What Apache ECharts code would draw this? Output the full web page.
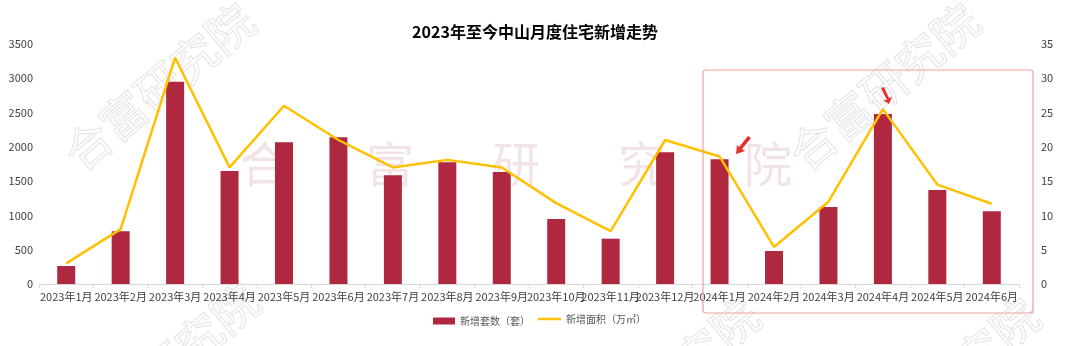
<!DOCTYPE html>
<html>
<head>
<meta charset="utf-8">
<script src="https://cdn.jsdelivr.net/npm/echarts@6/dist/echarts.min.js"></script>
<style>
html,body{margin:0;padding:0;background:#fff;}
#c{width:1080px;height:346px;}
</style>
</head>
<body>
<div id="c"></div>
<script>
const categories = ['2023年1月','2023年2月','2023年3月','2023年4月','2023年5月','2023年6月','2023年7月','2023年8月','2023年9月','2023年10月','2023年11月','2023年12月','2024年1月','2024年2月','2024年3月','2024年4月','2024年5月','2024年6月'];
const units = [262, 768, 2950, 1648, 2067, 2139, 1585, 1774, 1633, 948, 661, 1920, 1818, 481, 1123, 2479, 1371, 1060];
const area = [3.0, 8.0, 33.0, 17.0, 26.0, 21.0, 17.0, 18.1, 17.0, 11.8, 7.7, 21.0, 18.6, 5.4, 12.0, 25.5, 14.5, 11.7];
const seriesNames = ['新增套数（套）', '新增面积（万㎡）'];
const titleText = '2023年至今中山月度住宅新增走势';
const watermark = '合富研究院';

const FONT = '"Microsoft YaHei","Noto Sans CJK SC","DejaVu Sans",sans-serif';
const chart = echarts.init(document.getElementById('c'), null, {renderer:'canvas'});

const wmDiag = [];
[[55,-5],[780,-5],[60,275],[560,290],[840,290]].forEach(p=>{
  wmDiag.push({type:'text', left:p[0], top:p[1], rotation:Math.PI*0.22, z:0, silent:true,
    style:{text:watermark, font:'46px '+FONT, fill:'rgba(255,255,255,0)', stroke:'rgba(150,150,150,0.28)', lineWidth:1}});
});
const wmRow = ['合','富','研','究','院'].map((ch,i)=>({
  type:'text', left:240+i*126, top:140, z:0, silent:true,
  style:{text:ch, font:'48px '+FONT, fill:'rgba(190,120,130,0.2)'}
}));

chart.setOption({
  backgroundColor:'#fff',
  textStyle:{fontFamily:FONT},
  title:{text:titleText, left:530, textAlign:'center', top:19,
    textStyle:{fontSize:16, fontWeight:'bold', color:'#000', fontFamily:FONT}},
  legend:[
    {bottom:15, left:428, itemWidth:22, itemHeight:7,
     textStyle:{fontSize:10, color:'#595959', fontFamily:FONT},
     data:[{name:seriesNames[0], icon:'rect'}]},
    {bottom:17, left:533, itemWidth:23, itemHeight:2.5,
     textStyle:{fontSize:10, color:'#595959', fontFamily:FONT},
     data:[{name:seriesNames[1], icon:'rect'}]}
  ],
  grid:{left:39, right:61, top:44, bottom:62},
  xAxis:{type:'category', data:categories, boundaryGap:true,
    axisLine:{lineStyle:{color:'#d9d9d9'}},
    axisTick:{show:true, length:4, lineStyle:{color:'#d9d9d9'}},
    axisLabel:{interval:0, fontSize:11, color:'#404040', margin:7}},
  yAxis:[
    {type:'value', min:0, max:3500, interval:500, splitLine:{show:false},
     axisLine:{show:false}, axisTick:{show:false},
     axisLabel:{fontSize:11, color:'#404040', margin:6, formatter:v=>String(v)}},
    {type:'value', min:0, max:35, interval:5, splitLine:{show:false},
     axisLine:{show:false}, axisTick:{show:false},
     axisLabel:{fontSize:11, color:'#404040', margin:22, formatter:v=>String(v)}}
  ],
  series:[
    {name:seriesNames[0], type:'bar', data:units, barWidth:18, yAxisIndex:0,
     itemStyle:{color:'#B0283F'}, z:2},
    {name:seriesNames[1], type:'line', data:area, yAxisIndex:1, symbol:'none',
     lineStyle:{color:'#FFC000', width:2.5}, itemStyle:{color:'#FFC000'}, z:3}
  ],
  graphic:[
    ...wmRow,
    ...wmDiag,
    {type:'rect', shape:{x:703, y:70, width:330, height:243, r:3}, z:10, silent:true,
     style:{fill:'none', stroke:'#F4A0A0', lineWidth:1.2}},
    {type:'polygon', z:11, silent:true, shape:{points:[[739,147],[748,136],[751,138],[742,149],[745,151],[736,154],[737,145]]},
     style:{fill:'#E8302A'}},
    {type:'polygon', z:11, silent:true, shape:{points:[[887,100],[881,88],[884,87],[889,98],[892,97],[889,104],[883,100]]},
     style:{fill:'#E8302A'}}
  ]
});
</script>
</body>
</html>
